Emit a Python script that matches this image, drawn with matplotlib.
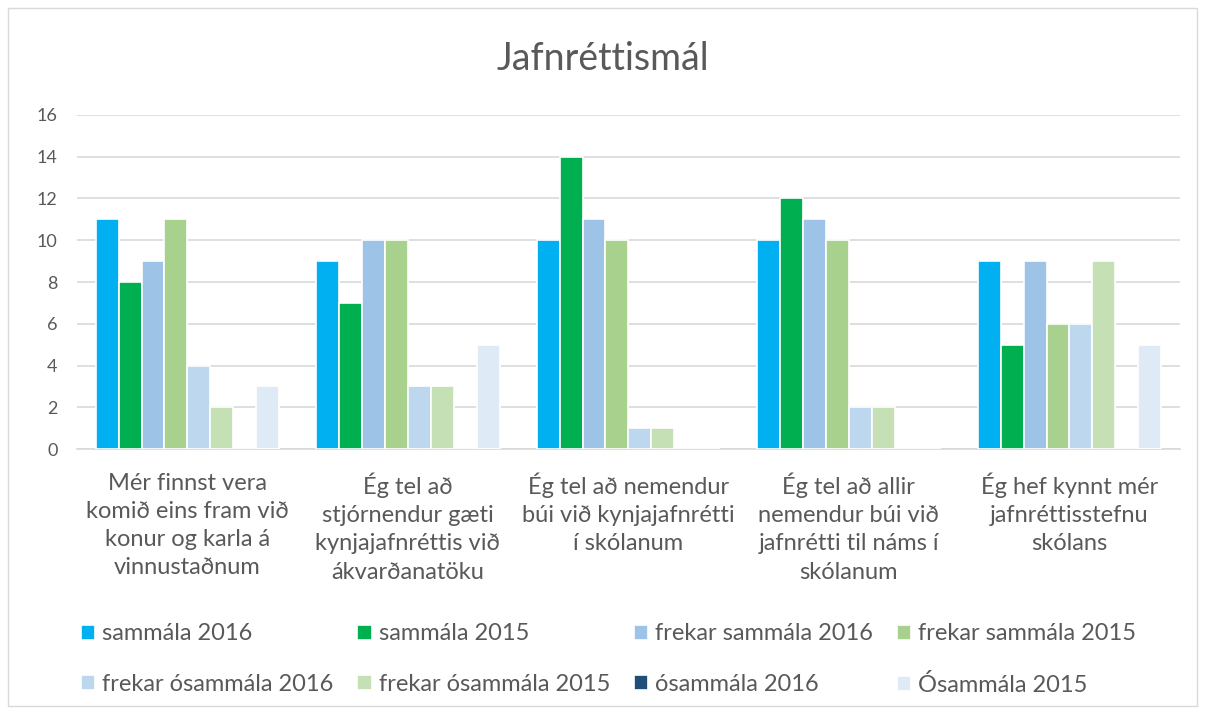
import matplotlib
matplotlib.use('Agg')
import matplotlib.pyplot as plt
import matplotlib.patches as mpatches
import numpy as np

plt.rcParams['font.family'] = ['Lato', 'DejaVu Sans']

# Categories (Icelandic survey statements)
categories = [
    "Mér finnst vera\nkomið eins fram við\nkonur og karla á\nvinnustaðnum",
    "Ég tel að\nstjórnendur gæti\nkynjajafnréttis við\nákvarðanatöku",
    "Ég tel að nemendur\nbúi við kynjajafnrétti\ní skólanum",
    "Ég tel að allir\nnemendur búi við\njafnrétti til náms í\nskólanum",
    "Ég hef kynnt mér\njafnréttisstefnu\nskólans",
]

series_names = [
    "sammála 2016", "sammála 2015",
    "frekar sammála 2016", "frekar sammála 2015",
    "frekar ósammála 2016", "frekar ósammála 2015",
    "ósammála 2016", "Ósammála 2015",
]

sammala_2016 = [11, 9, 10, 10, 9]
sammala_2015 = [8, 7, 14, 12, 5]
frekar_sammala_2016 = [9, 10, 11, 11, 9]
frekar_sammala_2015 = [11, 10, 10, 10, 6]
frekar_osammala_2016 = [4, 3, 1, 2, 6]
frekar_osammala_2015 = [2, 3, 1, 2, 9]
osammala_2016 = [0, 0, 0, 0, 0]
osammala_2015 = [3, 5, 0, 0, 5]

series_values = [sammala_2016, sammala_2015, frekar_sammala_2016, frekar_sammala_2015,
                 frekar_osammala_2016, frekar_osammala_2015, osammala_2016, osammala_2015]

colors = ['#00B0F0', '#00B050', '#9DC3E6', '#A9D18E',
          '#BDD7EE', '#C5E0B4', '#1F4E79', '#DEEBF7']

text_color = '#595959'

fig = plt.figure(figsize=(12.05, 7.14), dpi=100)
ax = fig.add_axes([0.064, 0.371, 0.915, 0.468])

x = np.arange(len(categories))
slot = 0.104
for i, (name, vals, col) in enumerate(zip(series_names, series_values, colors)):
    ax.bar(x + (i - 3.5) * slot, vals, width=slot, color=col, label=name,
           edgecolor='white', linewidth=1.2, zorder=3)

ax.set_xlim(-0.5, len(categories) - 0.5)
ax.set_ylim(0, 16)
ax.set_yticks(range(0, 17, 2))
ax.yaxis.grid(True, color='#D9D9D9', linewidth=1.2, zorder=0)
ax.set_axisbelow(True)

for side in ['top', 'right', 'left']:
    ax.spines[side].set_visible(False)
ax.spines['bottom'].set_color('#D9D9D9')
ax.spines['bottom'].set_linewidth(1.2)

ax.set_xticks(x)
ax.set_xticklabels(categories, fontsize=17, color=text_color, linespacing=1.42,
                   va='top')
ax.tick_params(axis='x', length=0, pad=17)
ax.tick_params(axis='y', length=0, pad=14, labelsize=13, labelcolor=text_color)

fig.text(0.5, 0.918, 'Jafnréttismál', ha='center', va='center',
         fontsize=27, color=text_color)

# legend filled row by row, like the original
handles, labels = ax.get_legend_handles_labels()
order = [0, 4, 1, 5, 2, 6, 3, 7]
leg = fig.legend([handles[i] for i in order], [labels[i] for i in order],
                 loc='center', bbox_to_anchor=(0.505, 0.076),
                 ncol=4, frameon=False, fontsize=17, labelcolor=text_color,
                 handlelength=0.6, handleheight=0.6, handletextpad=0.3,
                 columnspacing=1.0, labelspacing=1.25)

# chart border
fig.add_artist(mpatches.Rectangle((0.007, 0.011), 0.986, 0.978,
                                  transform=fig.transFigure, fill=False,
                                  edgecolor='#D9D9D9', linewidth=1))

plt.savefig('out.png', dpi=100)
